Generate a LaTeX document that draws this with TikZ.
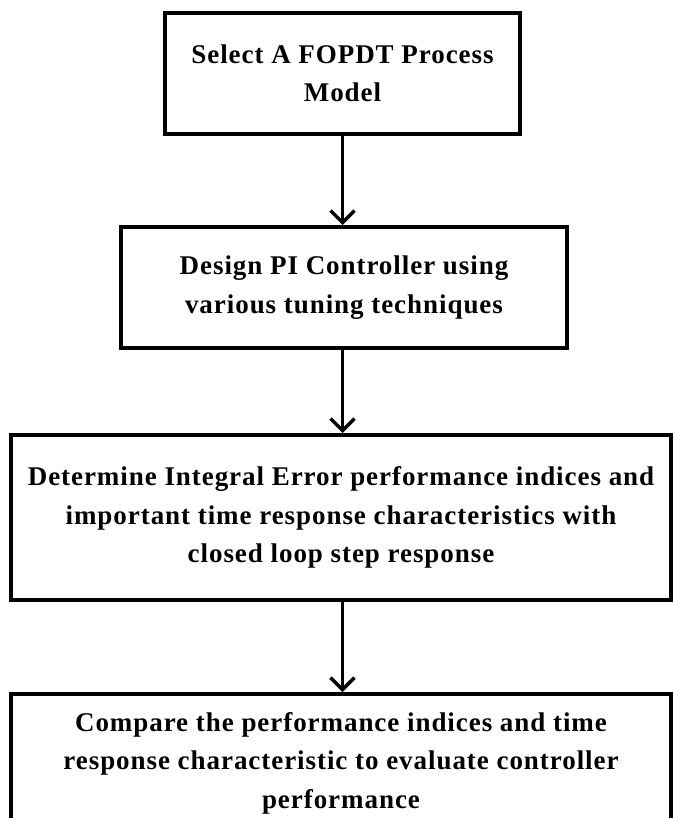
\documentclass[tikz,border=0pt]{standalone}
\usepackage{fontspec}
\setmainfont[LetterSpace=3.5]{Liberation Serif}
\usetikzlibrary{arrows.meta}
\begin{document}
\begin{tikzpicture}[x=1pt,y=-1pt,
  flowbox/.style={draw=black, line width=4pt, fill=white, inner sep=0pt, align=center,
    font=\fontsize{27}{38.5}\selectfont\bfseries},
  flowarrow/.style={line width=3.5pt, -{Straight Barb[length=12pt,width=24pt]}}]
\useasboundingbox[fill=white] (0,0) rectangle (672,818);
\node[flowbox, minimum width=355pt, minimum height=121pt] (b1) at (342.5,73.5)
  {Select A FOPDT Process\\Model};
\node[flowbox, minimum width=446pt, minimum height=121pt] (b2) at (344,287.5)
  {Design PI Controller using\\various tuning techniques};
\node[flowbox, minimum width=660pt, minimum height=165pt] (b3) at (341,517.5)
  {Determine Integral Error performance indices and\\important time response characteristics with\\closed loop step response};
\node[flowbox, minimum width=660pt, minimum height=138pt, anchor=north] (b4) at (341,692)
  {Compare the performance indices and time\\response characteristic to evaluate controller\\performance};
\draw[flowarrow] (b1.south) -- (b1.south |- b2.north);
\draw[flowarrow] (b1.south |- b2.south) -- (b1.south |- b3.north);
\draw[flowarrow] (b1.south |- b3.south) -- (b1.south |- b4.north);
\end{tikzpicture}
\end{document}
